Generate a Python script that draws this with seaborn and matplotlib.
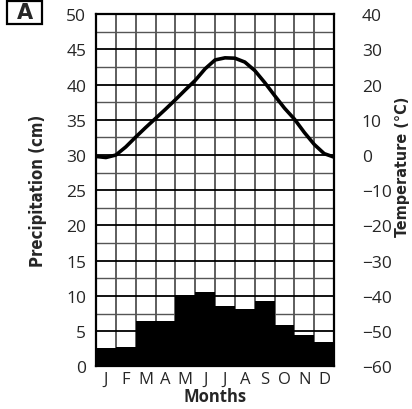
import numpy as np
import pandas as pd
import matplotlib
matplotlib.use("Agg")
import matplotlib.pyplot as plt
import seaborn as sns
from matplotlib.patches import Rectangle

# data
months = ["J", "F", "M", "A", "M", "J", "J", "A", "S", "O", "N", "D"]
precip_cm = [2.6, 2.7, 6.5, 6.4, 10.1, 10.5, 8.5, 8.1, 9.3, 5.9, 4.5, 3.5]

# temperature curve sampled every half month (0 = start of Jan, 12 = end of Dec)
temp_pos = [0, 0.5, 1, 1.5, 2, 2.5, 3, 3.5, 4, 4.5, 5, 5.5, 6,
            6.5, 7, 7.5, 8, 8.5, 9, 9.5, 10, 10.5, 11, 11.5, 12]
temp_c = [-0.4, -0.7, 0.0, 2.3, 5.1, 7.8, 10.4, 13.0, 15.7, 18.5, 21.2, 24.5, 27.0,
          27.6, 27.5, 26.4, 24.0, 20.6, 16.9, 13.3, 10.2, 6.4, 3.0, 0.4, -0.6]

precip_ticks = list(range(0, 51, 5))
temp_ticks = list(range(-60, 41, 10))

sns.set_style("white")
plt.rcParams['font.family'] = ['Open Sans', 'DejaVu Sans']

fig = plt.figure(figsize=(4.12, 4.10), dpi=100)
ax = fig.add_axes([0.233, 0.104, 0.578, 0.859])

# 🔹 precipitation bars (no gaps between months)
df = pd.DataFrame({"pos": range(12), "precip": precip_cm})
sns.barplot(data=df, x="pos", y="precip", color="black", width=1.0,
            saturation=1, edgecolor="black", linewidth=0, ax=ax, zorder=3)

ax.set_xlim(-0.5, 11.5)
ax.set_ylim(0, 50)

# grid: every month, every 2.5 cm
for x in np.arange(-0.5, 12, 1):
    ax.axvline(x, color="#333333", lw=1.1, zorder=1)
for y in np.arange(2.5, 50, 2.5):
    major = (y % 5 == 0)
    ax.axhline(y, color="black" if major else "#555555",
               lw=1.3 if major else 1.0, zorder=1)

ax.set_xticks(range(12))
ax.set_xticklabels(months, fontsize=12)
ax.set_yticks(precip_ticks)
ax.set_yticklabels([str(v) for v in precip_ticks], fontsize=12.5)
ax.tick_params(axis="both", length=0)
ax.tick_params(axis="y", pad=7)
ax.tick_params(axis="x", pad=3)
ax.set_xlabel("Months", fontsize=12, fontweight="bold", labelpad=0)
ax.set_ylabel("Precipitation (cm)", fontsize=12, fontweight="bold",
              family="DejaVu Sans", fontstretch="condensed")
ax.yaxis.set_label_coords(-0.205, 0.5)

for s in ax.spines.values():
    s.set_linewidth(1.6)
    s.set_color("black")
    s.set_zorder(5)

# 🔹 temperature curve on the right axis
ax2 = ax.twinx()
tdf = pd.DataFrame({"x": np.array(temp_pos) - 0.5, "t": temp_c})
sns.lineplot(data=tdf, x="x", y="t", color="black", lw=2.6, ax=ax2, zorder=4)
ax2.set_ylim(-60, 40)
ax2.set_xlim(-0.5, 11.5)
ax2.set_yticks(temp_ticks)
ax2.set_yticklabels([f"{v}".replace("-", "\u2212") for v in temp_ticks], fontsize=12.5)
ax2.tick_params(axis="y", length=0, pad=20)
ax2.set_ylabel("Temperature (\u00b0C)", fontsize=11.5, fontweight="bold",
               family="DejaVu Sans", fontstretch="condensed", rotation=90)
ax2.yaxis.set_label_coords(1.255, 0.57)
ax2.set_xlabel("")
for s in ax2.spines.values():
    s.set_visible(False)

# 🔹 panel letter in a box
fig.patches.append(Rectangle((0.018, 0.94), 0.085, 0.055, transform=fig.transFigure,
                             fill=False, ec="black", lw=1.6))
fig.text(0.0605, 0.9675, "A", fontsize=15, fontweight="bold", ha="center", va="center",
         family="DejaVu Sans")

fig.savefig("out.png", dpi=100)
